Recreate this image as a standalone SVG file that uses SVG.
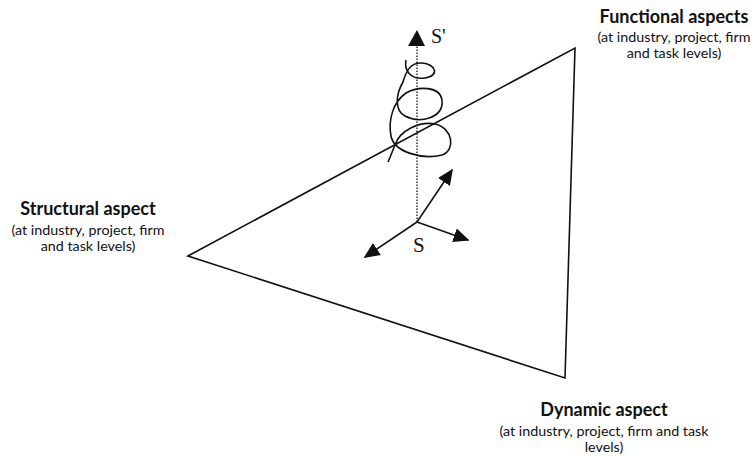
<svg xmlns="http://www.w3.org/2000/svg" width="754" height="456" viewBox="0 0 754 456">
<defs>
<style>
.title{font-family:Lato,"Liberation Sans",sans-serif;font-weight:bold;font-size:18px;fill:#111;text-anchor:middle}
.sub{font-family:Lato,"Liberation Sans",sans-serif;font-size:14.3px;fill:#111;text-anchor:middle}
.sym{font-family:"Liberation Serif",serif;fill:#111}
.ln{stroke:#111;stroke-width:1.6;fill:none}
</style>
<marker id="ah2" viewBox="0 0 10 10" refX="9" refY="5" markerWidth="16" markerHeight="16" markerUnits="userSpaceOnUse" orient="auto">
<path d="M0,0.5 L10,5 L0,9.5 z" fill="#111"/>
</marker>
</defs>
<rect width="754" height="456" fill="#fff"/>
<g id="triangle">
<polygon points="188,256 575,48 565,378" class="ln"/>
</g>
<g id="functional">
<text class="title" x="674" y="23">Functional aspects</text>
<text class="sub" x="674" y="42">(at industry, project, firm</text>
<text class="sub" x="674" y="58">and task levels)</text>
</g>
<g id="structural">
<text class="title" x="88" y="215">Structural aspect</text>
<text class="sub" x="88" y="235">(at industry, project, firm</text>
<text class="sub" x="88" y="251">and task levels)</text>
</g>
<g id="dynamic">
<text class="title" x="604" y="416">Dynamic aspect</text>
<text class="sub" x="604" y="436">(at industry, project, firm and task</text>
<text class="sub" x="604" y="452">levels)</text>
</g>
<g id="connectors">
<line x1="417" y1="222" x2="417" y2="46" stroke="#333" stroke-width="1.5" stroke-dasharray="1.5,1.5"/>
<polygon points="417,30 408,46 425,46" fill="#111"/>
<line x1="417" y1="222" x2="452" y2="170" class="ln" marker-end="url(#ah2)"/>
<line x1="417" y1="222" x2="468" y2="240" class="ln" marker-end="url(#ah2)"/>
<line x1="417" y1="222" x2="365" y2="257" class="ln" marker-end="url(#ah2)"/>
<path class="ln" stroke-width="1.2" d="M406,60 C404,70 410,80 425,78 C440,76 436,64 422,63 C410,62 406,72 403,82 C396,94 394,110 405,116 C420,124 444,118 442,100 C440,86 418,86 406,93 C393,102 388,120 391,136 C394,152 422,160 442,155 C456,150 453,128 435,124 C420,121 400,130 395,145 C392,152 390,158 388,162"/>
</g>
<g id="labels">
<text class="sym" x="431" y="43" font-size="20">S'</text>
<text class="sym" x="413" y="252" font-size="21">S</text>
</g>
</svg>
